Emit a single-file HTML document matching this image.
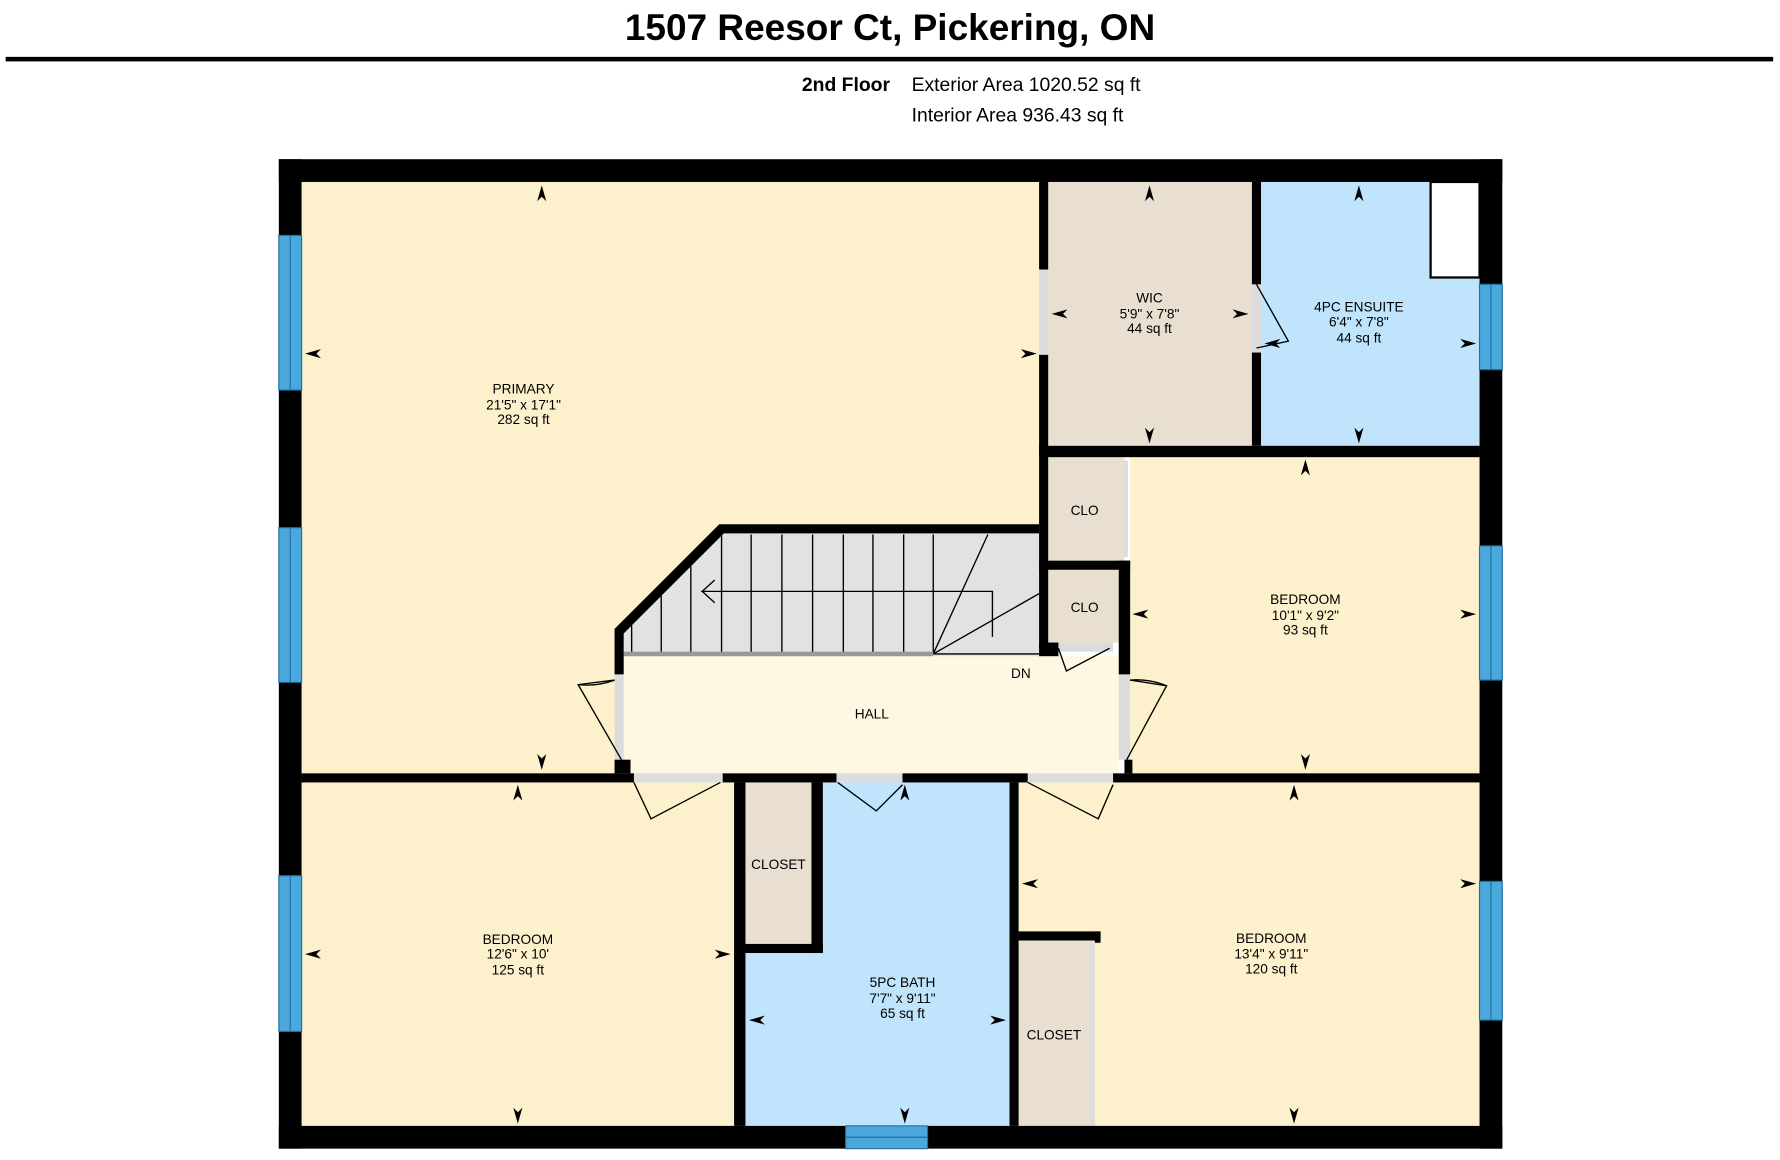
<!DOCTYPE html>
<html><head><meta charset="utf-8"><style>
html,body{margin:0;padding:0;background:#fff;width:1780px;height:1160px;overflow:hidden}
svg{display:block}
text{font-family:"Liberation Sans",Arial,sans-serif}
</style></head><body>
<svg width="1780" height="1160" viewBox="0 0 1564 1020" preserveAspectRatio="none" xmlns="http://www.w3.org/2000/svg">
<rect width="1564" height="1020" fill="#fff"/>
<text x="782" y="35" font-size="32.5" font-weight="bold" text-anchor="middle">1507 Reesor Ct, Pickering, ON</text>
<rect x="5" y="50" width="1553" height="4" fill="#000"/>
<text x="782" y="80" font-size="17" font-weight="bold" text-anchor="end">2nd Floor</text>
<text x="801" y="80" font-size="17">Exterior Area 1020.52 sq ft</text>
<text x="801" y="107" font-size="17">Interior Area 936.43 sq ft</text>

<rect x="265" y="160" width="648" height="520" fill="#fdf0cc"/>
<rect x="921" y="160" width="179" height="232" fill="#e8dfd0"/>
<rect x="1108" y="160" width="192" height="232" fill="#c0e4fb"/>
<rect x="1257" y="160" width="43" height="84" fill="#fff" stroke="#000" stroke-width="2"/>
<rect x="921" y="402" width="67" height="91" fill="#e8dfd0"/>
<rect x="993" y="402" width="307" height="278" fill="#fdf0cc"/>
<rect x="921" y="500" width="62" height="65" fill="#e8dfd0"/>
<rect x="548" y="577" width="435" height="103" fill="#fef8e2"/>
<polygon points="548,556 636,468 913,468 913,577 548,577" fill="#e2e2e2"/>
<rect x="265" y="688" width="380" height="302" fill="#fdf0cc"/>
<rect x="655" y="688" width="232" height="302" fill="#c0e4fb"/>
<rect x="650" y="688" width="63" height="142" fill="#e8dfd0"/>
<rect x="895" y="688" width="405" height="302" fill="#fdf0cc"/>
<rect x="895" y="826" width="67" height="164" fill="#e8dfd0"/>

<g stroke="#000" stroke-width="1.2" fill="none">
<line x1="555" y1="550" x2="555" y2="575"/><line x1="581" y1="524" x2="581" y2="575"/><line x1="607" y1="498" x2="607" y2="575"/>
<line x1="634" y1="470" x2="634" y2="575"/><line x1="660" y1="470" x2="660" y2="575"/><line x1="687" y1="470" x2="687" y2="575"/>
<line x1="714" y1="470" x2="714" y2="575"/><line x1="741" y1="470" x2="741" y2="575"/><line x1="767" y1="470" x2="767" y2="575"/>
<line x1="794" y1="470" x2="794" y2="575"/><line x1="820" y1="470" x2="820" y2="575"/>
<line x1="820" y1="575" x2="868" y2="470"/><line x1="820" y1="575" x2="913" y2="522"/>
<polyline points="872,560 872,520 616,520"/><polyline points="628,510 617,520 628,530"/>
<line x1="820" y1="575" x2="913" y2="575"/>
</g>
<rect x="548" y="573" width="272" height="4" fill="#999"/>

<g fill="#dcdcdc">
<rect x="913" y="237" width="8" height="75"/><rect x="1100" y="250" width="8" height="60"/>
<rect x="540" y="593" width="8" height="75"/><rect x="983" y="593" width="10" height="75"/>
<rect x="557" y="680" width="78" height="8"/><rect x="735" y="680" width="58" height="8"/><rect x="903" y="680" width="75" height="8"/>
<rect x="930" y="565" width="48" height="8"/><rect x="988" y="405" width="3" height="85"/><rect x="958" y="830" width="4" height="160"/>
</g>

<g fill="#000">
<rect x="245" y="140" width="1075" height="20"/><rect x="245" y="990" width="1075" height="20"/>
<rect x="245" y="140" width="20" height="870"/><rect x="1300" y="140" width="20" height="870"/>
<rect x="913" y="160" width="8" height="77"/><rect x="913" y="312" width="8" height="258"/>
<rect x="1100" y="160" width="8" height="90"/><rect x="1100" y="310" width="8" height="82"/>
<rect x="913" y="392" width="387" height="10"/>
<rect x="913" y="493" width="80" height="8"/><rect x="983" y="493" width="10" height="100"/>
<rect x="988" y="668" width="7" height="12"/>
<rect x="540" y="668" width="14" height="12"/>
<polygon points="540,553 632,461 913,461 913,469 636,469 548,557 548,593 540,593"/>
<rect x="913" y="565" width="17" height="12"/>
<rect x="265" y="680" width="292" height="8"/>
<rect x="635" y="680" width="100" height="8"/>
<rect x="793" y="680" width="110" height="8"/>
<rect x="978" y="680" width="322" height="8"/>
<rect x="645" y="688" width="10" height="302"/>
<rect x="713" y="688" width="10" height="150"/><rect x="655" y="830" width="68" height="8"/>
<rect x="887" y="688" width="8" height="302"/>
<rect x="895" y="819" width="72" height="8"/><rect x="962" y="819" width="5" height="10"/>
</g>

<g fill="#4aa8dc" stroke="#1e6fa0" stroke-width="1">
<rect x="245" y="207" width="20" height="136"/><rect x="245" y="464" width="20" height="136"/><rect x="245" y="770" width="20" height="137"/>
<rect x="1300" y="250" width="20" height="75"/><rect x="1300" y="480" width="20" height="118"/><rect x="1300" y="775" width="20" height="122"/>
<rect x="743" y="990" width="72" height="20"/>
</g>
<g stroke="#1e6fa0" stroke-width="1">
<line x1="255" y1="207" x2="255" y2="343"/><line x1="255" y1="464" x2="255" y2="600"/><line x1="255" y1="770" x2="255" y2="907"/>
<line x1="1310" y1="250" x2="1310" y2="325"/><line x1="1310" y1="480" x2="1310" y2="598"/><line x1="1310" y1="775" x2="1310" y2="897"/>
<line x1="743" y1="1000" x2="815" y2="1000"/>
</g>

<g stroke="#000" stroke-width="1.2" fill="none">
<path d="M540,598 L508,602 L546,668"/><path d="M508,602 A70,70 0 0 0 540,598"/>
<path d="M993,598 L1025,603 L990,668"/><path d="M1025,603 A70,70 0 0 0 993,598"/>
<path d="M1104,250 L1132,300 L1104,306"/>
<path d="M557,688 L572,720 L633,688"/>
<path d="M736,688 L770,713 L793,690"/>
<path d="M903,688 L965,720 L978,690"/>
<path d="M930,570 L937,590 L975,570"/>
</g>

<g fill="#000">
<polygon points="476,163 472,177 476,173 480,177"/><polygon points="476,677 472,663 476,667 480,663"/>
<polygon points="268,311 282,307 278,311 282,315"/><polygon points="911,311 897,307 901,311 897,315"/>
<polygon points="1010,163 1006,177 1010,173 1014,177"/><polygon points="1010,390 1006,376 1010,380 1014,376"/>
<polygon points="924,276 938,272 934,276 938,280"/><polygon points="1097,276 1083,272 1087,276 1083,280"/>
<polygon points="1194,163 1190,177 1194,173 1198,177"/><polygon points="1194,390 1190,376 1194,380 1198,376"/>
<polygon points="1111,302 1125,298 1121,302 1125,306"/><polygon points="1297,302 1283,298 1287,302 1283,306"/>
<polygon points="1147,404 1143,418 1147,414 1151,418"/><polygon points="1147,677 1143,663 1147,667 1151,663"/>
<polygon points="995,540 1009,536 1005,540 1009,544"/><polygon points="1297,540 1283,536 1287,540 1283,544"/>
<polygon points="455,690 451,704 455,700 459,704"/><polygon points="455,988 451,974 455,978 459,974"/>
<polygon points="268,839 282,835 278,839 282,843"/><polygon points="642,839 628,835 632,839 628,843"/>
<polygon points="795,690 791,704 795,700 799,704"/><polygon points="795,988 791,974 795,978 799,974"/>
<polygon points="658,897 672,893 668,897 672,901"/><polygon points="884,897 870,893 874,897 870,901"/>
<polygon points="1137,690 1133,704 1137,700 1141,704"/><polygon points="1137,988 1133,974 1137,978 1141,974"/>
<polygon points="898,777 912,773 908,777 912,781"/><polygon points="1297,777 1283,773 1287,777 1283,781"/>
</g>

<g font-size="12" text-anchor="middle" fill="#000">
<text x="460" y="346">PRIMARY</text><text x="460" y="360">21'5" x 17'1"</text><text x="460" y="373">282 sq ft</text>
<text x="1010" y="266">WIC</text><text x="1010" y="280">5'9" x 7'8"</text><text x="1010" y="293">44 sq ft</text>
<text x="1194" y="274">4PC ENSUITE</text><text x="1194" y="287">6'4" x 7'8"</text><text x="1194" y="301">44 sq ft</text>
<text x="953" y="453">CLO</text><text x="953" y="538">CLO</text>
<text x="1147" y="531">BEDROOM</text><text x="1147" y="545">10'1" x 9'2"</text><text x="1147" y="558">93 sq ft</text>
<text x="897" y="596">DN</text><text x="766" y="632">HALL</text>
<text x="455" y="830">BEDROOM</text><text x="455" y="843">12'6" x 10'</text><text x="455" y="857">125 sq ft</text>
<text x="684" y="764">CLOSET</text>
<text x="793" y="868">5PC BATH</text><text x="793" y="882">7'7" x 9'11"</text><text x="793" y="895">65 sq ft</text>
<text x="926" y="914">CLOSET</text>
<text x="1117" y="829">BEDROOM</text><text x="1117" y="843">13'4" x 9'11"</text><text x="1117" y="856">120 sq ft</text>
</g>
</svg>
</body></html>
